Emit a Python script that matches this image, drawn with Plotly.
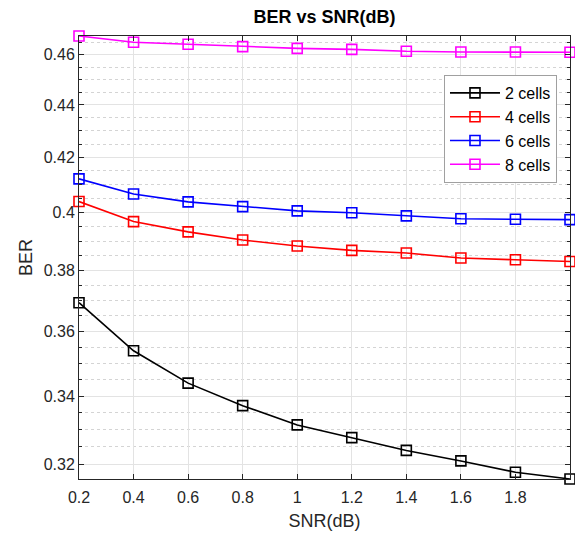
import plotly.graph_objects as go
import numpy as np

snr = [0.2, 0.4, 0.6, 0.8, 1.0, 1.2, 1.4, 1.6, 1.8, 2.0]
ber_2 = [0.3693, 0.3539, 0.3439, 0.3371, 0.3314, 0.3277, 0.3240, 0.3210, 0.3178, 0.3159]
ber_4 = [0.4039, 0.3968, 0.3932, 0.3904, 0.3883, 0.3868, 0.3859, 0.3842, 0.3836, 0.3830]
ber_6 = [0.4121, 0.4066, 0.4038, 0.4021, 0.4006, 0.3999, 0.3988, 0.3978, 0.3976, 0.3975]
ber_8 = [0.4677, 0.4651, 0.4643, 0.4633, 0.4626, 0.4622, 0.4614, 0.4611, 0.4611, 0.4610]

series = [("2 cells", ber_2, "#000000"), ("4 cells", ber_4, "#ff0000"),
          ("6 cells", ber_6, "#0000ff"), ("8 cells", ber_8, "#ff00ff")]

x_ticks = [0.2, 0.4, 0.6, 0.8, 1.0, 1.2, 1.4, 1.6, 1.8]
x_ticktext = ["0.2", "0.4", "0.6", "0.8", "1", "1.2", "1.4", "1.6", "1.8"]
y_ticks = [0.32, 0.34, 0.36, 0.38, 0.40, 0.42, 0.44, 0.46]
y_ticktext = ["0.32", "0.34", "0.36", "0.38", "0.4", "0.42", "0.44", "0.46"]
y_minor = [0.320, 0.325, 0.330, 0.335, 0.340, 0.345, 0.350, 0.355, 0.360, 0.365,
           0.370, 0.375, 0.380, 0.385, 0.390, 0.395, 0.400, 0.405, 0.410, 0.415,
           0.420, 0.425, 0.430, 0.435, 0.440, 0.445, 0.450, 0.455, 0.460, 0.465]
y_min, y_max = 0.3159, 0.4677

fig = go.Figure()
for name, vals, col in series:
    fig.add_trace(go.Scatter(
        x=snr, y=vals, name=name, mode="lines+markers",
        line=dict(color=col, width=1.6),
        marker=dict(symbol="square-open", size=10, color=col, line=dict(width=1.6, color=col)),
        cliponaxis=False,
    ))

font_fam = "Liberation Sans, Arial, sans-serif"
fig.update_layout(
    width=575, height=538,
    margin=dict(l=79, r=5, t=36, b=59),
    paper_bgcolor="white", plot_bgcolor="white",
    font=dict(family=font_fam, size=16, color="#262626"),
    title=dict(text="<b>BER vs SNR(dB)</b>", x=0.5, xref="paper", xanchor="center",
               y=1, yref="container", yanchor="top", pad=dict(t=10),
               font=dict(size=18, color="#000000")),
    showlegend=True,
    legend=dict(x=0.9735, y=0.912, xanchor="right", yanchor="top",
                bgcolor="white", bordercolor="#a0a0a0", borderwidth=1,
                font=dict(size=16, color="#000000"), itemwidth=50,
                tracegroupgap=0),
)
fig.update_xaxes(
    range=[0.2, 2.0], tickmode="array", tickvals=x_ticks, ticktext=x_ticktext,
    showline=True, linecolor="#262626", linewidth=1, mirror="allticks",
    ticks="inside", ticklen=5, tickcolor="#262626", ticklabelstandoff=4,
    showgrid=True, gridcolor="#e3e3e3", gridwidth=1, zeroline=False,
    title=dict(text="SNR(dB)", font=dict(size=18), standoff=9),
    tickfont=dict(size=16),
)
fig.update_yaxes(
    type="log", range=[np.log10(y_min), np.log10(y_max)],
    tickmode="array", tickvals=y_ticks, ticktext=y_ticktext,
    showline=True, linecolor="#262626", linewidth=1, mirror="allticks",
    ticks="inside", ticklen=5, tickcolor="#262626",
    showgrid=True, gridcolor="#e3e3e3", gridwidth=1, zeroline=False,
    minor=dict(tickmode="array", tickvals=y_minor, ticks="inside", ticklen=3,
               tickcolor="#262626", showgrid=True, gridcolor="#d4d4d4",
               griddash="dot", gridwidth=1),
    title=dict(text="BER", font=dict(size=18), standoff=6),
    tickfont=dict(size=16),
)

fig.write_html("out.html")
